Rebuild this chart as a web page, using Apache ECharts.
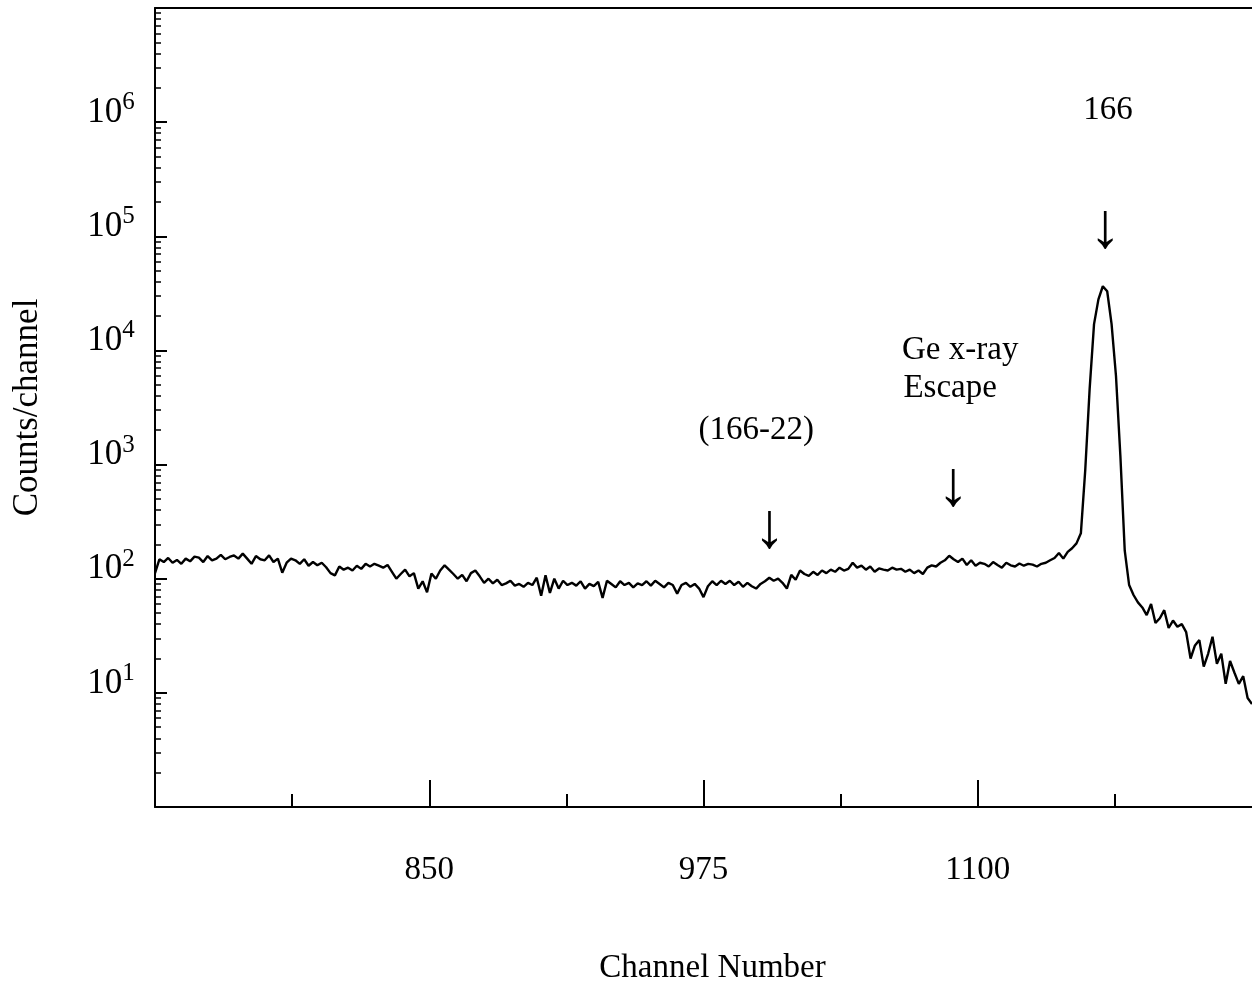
<!DOCTYPE html>
<html>
<head>
<meta charset="utf-8">
<script src="https://cdn.jsdelivr.net/npm/echarts@6/dist/echarts.min.js"></script>
<style>
  html, body { margin: 0; padding: 0; background: #fff; }
  #main { width: 1252px; height: 981px; }
</style>
</head>
<body>
<div id="main"></div>
<script>
// channel axis: first channel and step of the counts list
const firstChannel = 725;
const channelStep = 2;

// counts/channel, every 2 channels (725 .. 1225)
const counts = [
  112, 148, 140, 152, 138, 146, 135, 150, 142, 156,
  153, 140, 158, 145, 150, 162, 148, 155, 160, 150,
  166, 150, 135, 158, 148, 145, 160, 140, 150, 113,
  138, 150, 145, 135, 148, 130, 140, 131, 138, 126,
  112, 107, 128, 120, 125, 118, 130, 122, 135, 128,
  135, 130, 125, 132, 115, 100, 110, 120, 105, 112,
  82, 95, 76, 111, 100, 118, 131, 120, 110, 100,
  108, 95, 112, 118, 105, 92, 100, 91, 98, 88,
  91, 96, 87, 90, 85, 92, 88, 102, 71, 107,
  75, 100, 82, 96, 88, 92, 87, 95, 82, 90,
  86, 94, 68, 96, 90, 84, 95, 88, 92, 84,
  91, 88, 95, 87, 96, 90, 84, 92, 88, 74,
  88, 92, 85, 90, 82, 69, 86, 95, 88, 96,
  90, 96, 88, 94, 85, 92, 86, 82, 90, 95,
  102, 96, 100, 92, 82, 108, 98, 118, 110, 106,
  115, 108, 118, 112, 120, 115, 125, 118, 122, 138,
  125, 130, 120, 128, 115, 123, 120, 118, 125, 120,
  122, 115, 120, 112, 118, 110, 125, 131, 128, 138,
  145, 159, 148, 140, 150, 132, 145, 130, 138, 135,
  128, 140, 132, 125, 138, 131, 128, 136, 130, 135,
  133, 128, 135, 138, 145, 152, 168, 150, 172, 185,
  204, 250, 900, 4600, 17000, 28000, 36500, 33000, 17000, 6000,
  1200, 176, 88, 72, 62, 56, 48, 60, 41, 45,
  53, 37, 43, 38, 40, 34, 20, 26, 29, 17,
  22, 31, 18, 22, 12, 19, 15, 12, 14, 9,
  8
];

// axis ticks and labels
const xMajorTicks = [850, 975, 1100];
const xMinorTicks = [787.5, 912.5, 1037.5, 1162.5];
const yMajorTicks = [1, 10, 100, 1000, 10000, 100000, 1000000, 10000000];
const yLabelValues = [10, 100, 1000, 10000, 100000, 1000000];
const yMinorTicks = [];
for (let d = 1; d < 1e7; d *= 10) {
  for (let k = 2; k <= 9; k++) yMinorTicks.push(k * d);
}

// annotations: [text, channel, counts]
const notes = [
  ['166', 1159.4, 1.26e6],
  ['\u2193', 1158, 1.12e5],
  ['Ge x-ray', 1092, 1.0e4],
  ['Escape', 1087.4, 4650],
  ['\u2193', 1088.7, 620],
  ['(166-22)', 999, 2000],
  ['\u2193', 1005, 265]
];

const serif = '"Liberation Serif", "Times New Roman", serif';

const seriesData = counts.map((c, i) => [firstChannel + i * channelStep, c]);

const chart = echarts.init(document.getElementById('main'));

const option = {
  backgroundColor: '#fff',
  animation: false,
  grid: { left: 155, right: 0, top: 8, bottom: 174, containLabel: false, outerBoundsMode: 'none' },
  xAxis: [
    {
      type: 'value',
      min: 725,
      max: 1225,
      position: 'bottom',
      splitLine: { show: false },
      axisLine: { lineStyle: { color: '#000', width: 2 } },
      axisTick: {
        customValues: xMajorTicks,
        inside: true,
        length: 27,
        lineStyle: { color: '#000', width: 2 }
      },
      axisLabel: {
        customValues: xMajorTicks,
        formatter: v => String(v),
        margin: 47,
        color: '#000',
        fontSize: 33,
        fontFamily: serif
      },
      name: 'Channel Number',
      nameLocation: 'middle',
      nameGap: 145,
      nameTextStyle: { color: '#000', fontSize: 33, fontFamily: serif, padding: [0, 0, 0, 18] }
    },
    {
      type: 'value',
      min: 725,
      max: 1225,
      position: 'bottom',
      splitLine: { show: false },
      axisLine: { show: false },
      axisLabel: { show: false },
      axisTick: {
        customValues: xMinorTicks,
        inside: true,
        length: 13,
        lineStyle: { color: '#000', width: 2 }
      }
    },
    {
      type: 'value',
      min: 725,
      max: 1225,
      position: 'top',
      splitLine: { show: false },
      axisLine: { lineStyle: { color: '#000', width: 2 } },
      axisTick: { show: false },
      axisLabel: { show: false }
    }
  ],
  yAxis: [
    {
      type: 'log',
      logBase: 10,
      min: 1,
      max: 1e7,
      position: 'left',
      splitLine: { show: false },
      axisLine: { lineStyle: { color: '#000', width: 2 } },
      axisTick: {
        customValues: yMajorTicks,
        inside: true,
        length: 12,
        lineStyle: { color: '#000', width: 2 }
      },
      axisLabel: {
        customValues: yLabelValues,
        margin: 20,
        padding: [0, 0, 24, 0],
        formatter: function (v) {
          return '{b|10}{s|' + Math.round(Math.log10(v)) + '}{h| }';
        },
        rich: {
          b: { fontSize: 35, fontFamily: serif, color: '#000', lineHeight: 35, verticalAlign: 'bottom' },
          s: { fontSize: 25, fontFamily: serif, color: '#000', lineHeight: 25, verticalAlign: 'top' },
          h: { fontSize: 1, lineHeight: 40, verticalAlign: 'middle' }
        }
      },
      name: 'Counts/channel',
      nameLocation: 'middle',
      nameRotate: 90,
      nameGap: 110,
      nameTextStyle: { color: '#000', fontSize: 35, fontFamily: serif }
    },
    {
      type: 'log',
      logBase: 10,
      min: 1,
      max: 1e7,
      position: 'left',
      splitLine: { show: false },
      axisLine: { show: false },
      axisLabel: { show: false },
      axisTick: {
        customValues: yMinorTicks,
        inside: true,
        length: 6,
        lineStyle: { color: '#000', width: 1.5 }
      }
    }
  ],
  series: [
    {
      type: 'line',
      xAxisIndex: 0,
      yAxisIndex: 0,
      data: seriesData,
      symbol: 'none',
      lineStyle: { color: '#000', width: 2.4 },
      markPoint: {
        symbol: 'circle',
        symbolSize: 0,
        silent: true,
        data: notes.map(n => ({
          coord: [n[1], n[2]],
          itemStyle: { color: 'rgba(0,0,0,0)' },
          label: {
            show: true,
            position: 'inside',
            formatter: n[0],
            color: '#000',
            fontFamily: serif,
            fontSize: n[0] === '\u2193' ? 64 : 33
          }
        }))
      }
    }
  ]
};

chart.setOption(option);
</script>
</body>
</html>
